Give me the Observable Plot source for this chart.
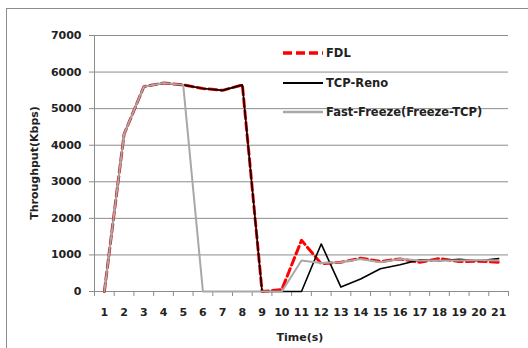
<!DOCTYPE html>
<html>
<head>
<meta charset="utf-8">
<script src="https://cdn.jsdelivr.net/npm/d3@7"></script>
<script src="https://cdn.jsdelivr.net/npm/@observablehq/plot@0.6"></script>
<style>
  html, body { margin: 0; padding: 0; background: #fff; }
  body { width: 528px; height: 348px; overflow: hidden; position: relative; font-family: "DejaVu Sans", sans-serif; }
  #frame { position: absolute; left: 6px; top: 8px; width: 700px; height: 500px; border-left: 1px solid #8c8c8c; border-top: 1px solid #8c8c8c; }
  #chart { position: absolute; left: 0; top: 0; }
  .lbl { position: absolute; font-weight: bold; font-size: 11px; color: #222; white-space: nowrap; }
  #ytitle { left: 34px; top: 163px; transform: translate(-50%, -50%) rotate(-90deg); }
  #xtitle { left: 300px; top: 337px; transform: translate(-50%, -50%); }
  #legend { position: absolute; left: 281px; top: 46px; }
  .row { position: absolute; left: 0; height: 14px; display: flex; align-items: center; font-weight: bold; font-size: 11.5px; color: #222; white-space: nowrap; }
  .row svg { margin-right: 2px; }
</style>
</head>
<body>
<div id="frame"></div>
<div id="chart"></div>
<div id="ytitle" class="lbl">Throughput(Kbps)</div>
<div id="xtitle" class="lbl">Time(s)</div>
<div id="legend"></div>
<script>
const times = [1,2,3,4,5,6,7,8,9,10,11,12,13,14,15,16,17,18,19,20,21];
const fdl = [0,4300,5600,5700,5650,5550,5500,5650,0,50,1400,760,800,910,820,890,800,900,820,830,800];
const reno = [0,4300,5600,5700,5650,5550,5500,5650,0,0,0,1300,120,340,620,730,870,840,880,840,900];
const freeze = [0,4300,5600,5700,5650,0,0,0,0,0,850,780,800,890,800,890,850,850,850,860,850];
const yTicks = [0,1000,2000,3000,4000,5000,6000,7000];
const seriesNames = ["FDL", "TCP-Reno", "Fast-Freeze(Freeze-TCP)"];

const toRows = (vals, s) => vals.map((v, i) => ({t: times[i], v, s}));
const rowsF = toRows(fdl, seriesNames[0]);
const rowsR = toRows(reno, seriesNames[1]);
const rowsZ = toRows(freeze, seriesNames[2]);
const boundaries = d3.range(0, times.length + 1).map(i => i + 0.5);

const axisColor = "#8c8c8c";
const plot = Plot.plot({
  width: 528,
  height: 348,
  marginLeft: 94,
  marginRight: 20,
  marginTop: 35,
  marginBottom: 57,
  style: { fontFamily: "DejaVu Sans, sans-serif", fontSize: "11px", fontWeight: "bold", color: "#222", background: "transparent" },
  x: { domain: [0.5, times.length + 0.5], label: null },
  y: { domain: [0, 7000], label: null },
  marks: [
    Plot.ruleY(yTicks.filter(d => d > 0), { stroke: axisColor, strokeWidth: 1 }),
    Plot.ruleX([0.5], { stroke: axisColor, strokeWidth: 1 }),
    Plot.ruleY([0], { stroke: axisColor, strokeWidth: 1 }),
    Plot.axisY({ ticks: yTicks, tickSize: 5, tickPadding: 8, stroke: axisColor, tickFormat: d => String(d), label: null, fill: "#222" }),
    Plot.axisX({ ticks: boundaries, tickSize: 5, tickFormat: () => "", stroke: axisColor, label: null }),
    Plot.axisX({ ticks: times, tickSize: 0, tickPadding: 17, tickFormat: d => String(d), label: null, fill: "#222" }),
    Plot.line(rowsF, { x: "t", y: "v", stroke: "#ff0000", strokeWidth: 3, strokeDasharray: "8,4" }),
    Plot.line(rowsR, { x: "t", y: "v", stroke: "#000", strokeWidth: 1.6 }),
    Plot.line(rowsZ, { x: "t", y: "v", stroke: "#a8a8a8", strokeWidth: 2 })
  ]
});
document.getElementById("chart").appendChild(plot);

const legendStyles = [
  { stroke: "#ff0000", width: 3.5, dash: "9,4" },
  { stroke: "#000", width: 2, dash: null },
  { stroke: "#a8a8a8", width: 2.5, dash: null }
];
const legend = document.getElementById("legend");
seriesNames.forEach((name, i) => {
  const row = document.createElement("div");
  row.className = "row";
  row.style.top = (i * 29.5) + "px";
  const st = legendStyles[i];
  row.innerHTML = `<svg width="43" height="10"><line x1="2" y1="5" x2="42" y2="5" stroke="${st.stroke}" stroke-width="${st.width}" ${st.dash ? `stroke-dasharray="${st.dash}"` : ""}/></svg><span>${name}</span>`;
  legend.appendChild(row);
});
</script>
</body>
</html>
